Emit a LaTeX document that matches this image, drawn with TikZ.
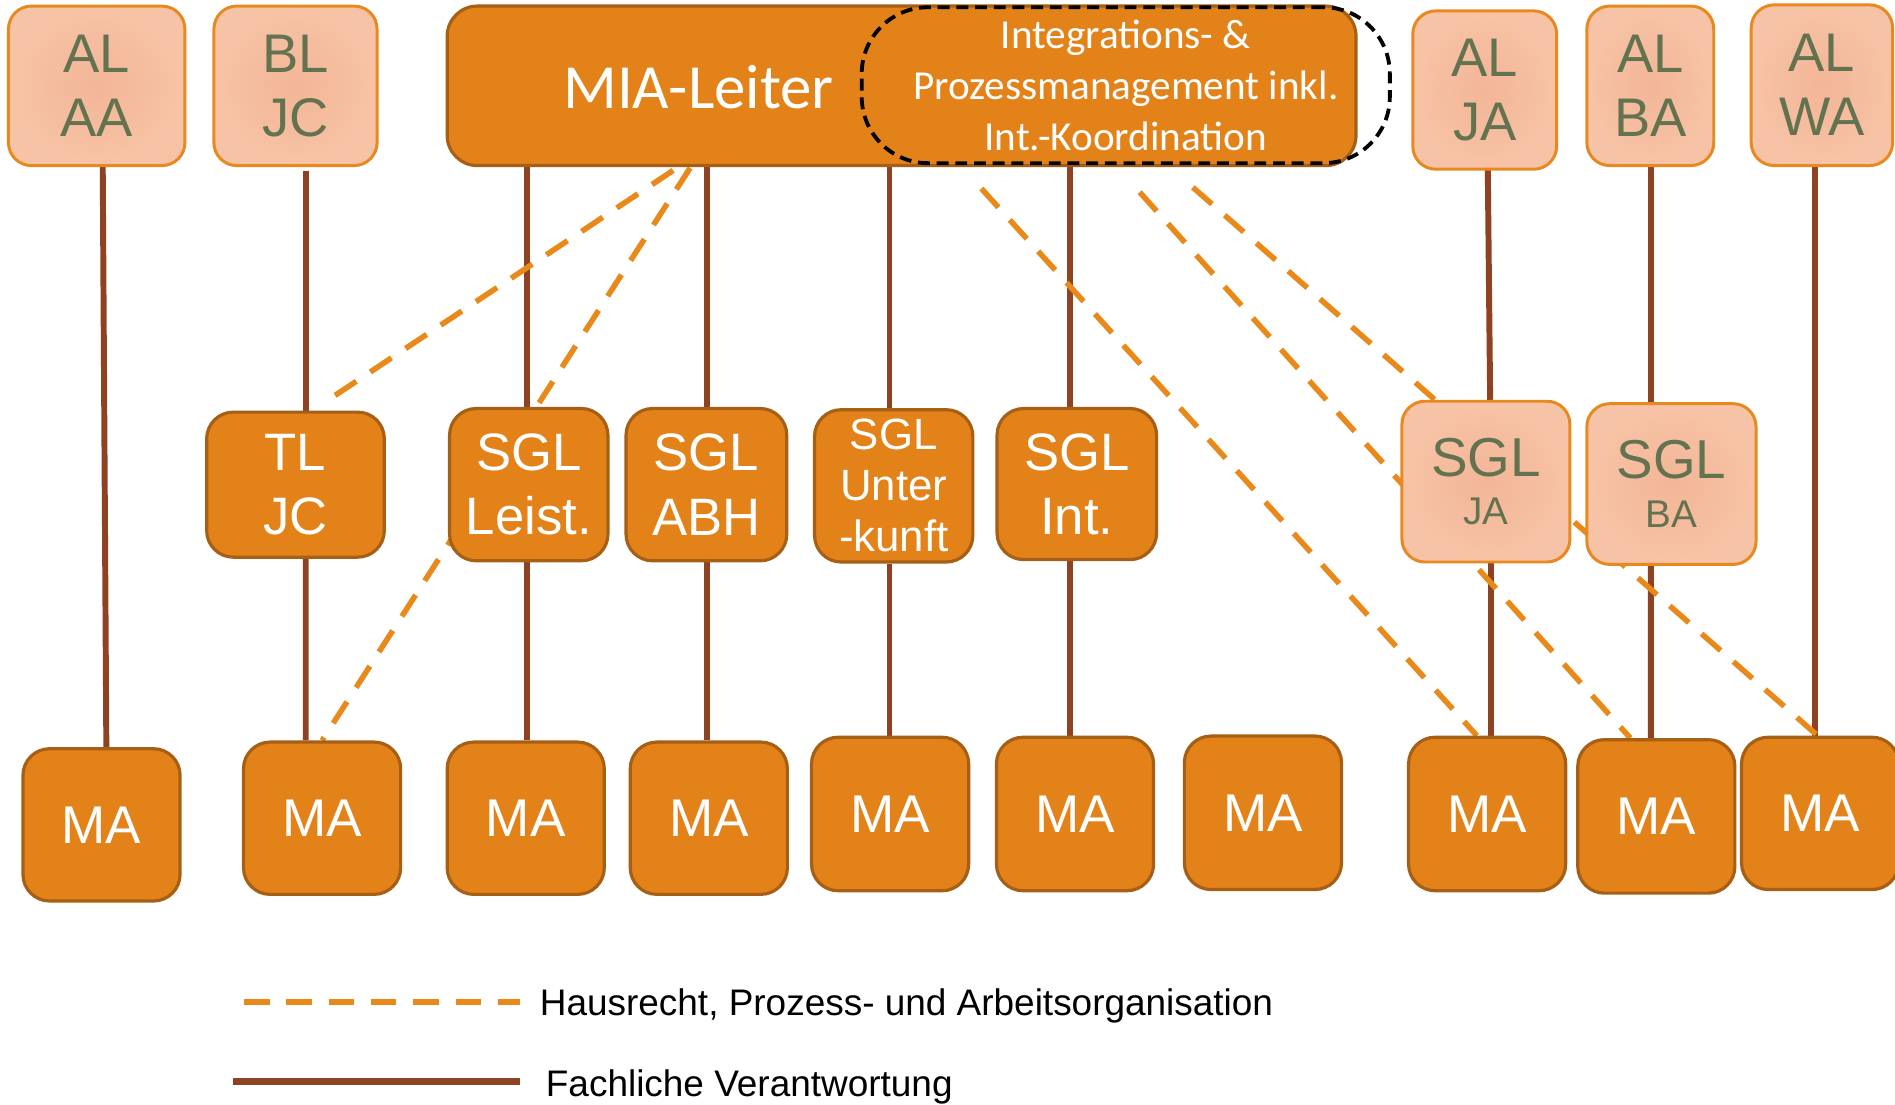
\documentclass[tikz,border=0pt]{standalone}
\usepackage{fontspec}
\setmainfont{Liberation Sans}
\newfontfamily\calibfont{Carlito}
\usetikzlibrary{calc}
\pgfdeclarelayer{background}
\pgfsetlayers{background,main}
\definecolor{orfill}{HTML}{E4821A}
\definecolor{ordraw}{HTML}{A65F14}
\definecolor{ltfill}{HTML}{F7C3A6}
\definecolor{ltcenter}{HTML}{F3B597}
\definecolor{ltdraw}{HTML}{E8891F}
\definecolor{lttext}{HTML}{64734F}
\definecolor{brownln}{HTML}{8E4222}
\definecolor{dashor}{HTML}{E8891A}
\begin{document}
\begin{tikzpicture}[
  obox/.style={draw=ordraw, line width=0.75pt, fill=orfill, rounded corners=0.22cm, text=white, align=center, inner sep=0pt, font=\fontsize{12.4}{15.1}\selectfont},
  mabox/.style={obox, minimum width=1.30cm, minimum height=1.26cm, font=\fontsize{12.5}{15}\selectfont},
  lbox/.style={draw=ltdraw, line width=0.7pt, inner color=ltcenter, outer color=ltfill, rounded corners=0.19cm, text=lttext, align=center, inner sep=0pt, font=\fontsize{12.8}{15.1}\selectfont},
  integbox/.style={draw=black, line width=0.9pt, dash pattern=on 2.8pt off 1.6pt, rounded corners=0.55cm, text=white, align=center, inner sep=0pt, font=\calibfont\fontsize{9.7}{12}\selectfont},
  solidln/.style={draw=brownln, line width=1.4pt},
  dashln/.style={draw=dashor, line width=1.3pt, dash pattern=on 0.21cm off 0.14cm},
  legtext/.style={anchor=base west, inner sep=0pt, font=\fontsize{8.7}{10}\selectfont, text=black}
]
\useasboundingbox (0,0) rectangle (15.68,-9.14);

% top row
\node[lbox, minimum width=1.46cm, minimum height=1.32cm] (alaa) at (0.80,-0.71) {AL\\AA};
\node[lbox, minimum width=1.35cm, minimum height=1.32cm] (bljc) at (2.445,-0.71) {BL\\JC};
\node[obox, rounded corners=0.25cm, minimum width=7.52cm, minimum height=1.32cm] (mia) at (7.46,-0.71) {};
\node[font=\calibfont\fontsize{14.8}{17}\selectfont, text=white, inner sep=0pt] (mialbl) at (5.78,-0.72) {MIA-Leiter};
\node[integbox, minimum width=4.37cm, minimum height=1.29cm] (integ) at (9.315,-0.705) {Integrations- \&\\Prozessmanagement inkl.\\Int.-Koordination};
\node[lbox, minimum width=1.19cm, minimum height=1.31cm] (alja) at (12.285,-0.745) {AL\\JA};
\node[lbox, minimum width=1.05cm, minimum height=1.32cm] (alba) at (13.655,-0.71) {AL\\BA};
\node[lbox, minimum width=1.17cm, minimum height=1.33cm] (alwa) at (15.075,-0.705) {AL\\WA};

% middle row
\node[obox, minimum width=1.47cm, minimum height=1.20cm] (tljc) at (2.445,-4.01) {TL\\JC};
\node[obox, minimum width=1.31cm, minimum height=1.26cm] (sglleist) at (4.375,-4.01) {SGL\\Leist.};
\node[obox, minimum width=1.33cm, minimum height=1.26cm] (sglabh) at (5.845,-4.01) {SGL\\ABH};
\node[obox, minimum width=1.31cm, minimum height=1.26cm, font=\fontsize{10.3}{12}\selectfont] (sglunt) at (7.395,-4.02) {SGL\\Unter\\-kunft};
\node[obox, minimum width=1.32cm, minimum height=1.25cm] (sglint) at (8.91,-4.005) {SGL\\Int.};
\node[lbox, minimum width=1.39cm, minimum height=1.33cm, font=\fontsize{12.9}{11.5}\selectfont] (sglja) at (12.295,-3.985) {SGL\\{\fontsize{9.1}{11.5}\selectfont JA}};
\node[lbox, minimum width=1.40cm, minimum height=1.33cm, font=\fontsize{12.9}{11.5}\selectfont] (sglba) at (13.83,-4.005) {SGL\\{\fontsize{9.1}{11.5}\selectfont BA}};

% bottom row
\node[mabox] (ma1) at (0.84,-6.825) {MA};
\node[mabox] (ma2) at (2.665,-6.77) {MA};
\node[mabox] (ma3) at (4.35,-6.77) {MA};
\node[mabox] (ma4) at (5.865,-6.77) {MA};
\node[mabox, minimum height=1.27cm] (ma5) at (7.365,-6.735) {MA};
\node[mabox, minimum height=1.27cm] (ma6) at (8.895,-6.735) {MA};
\node[mabox, minimum height=1.27cm] (ma7) at (10.45,-6.725) {MA};
\node[mabox, minimum height=1.27cm] (ma8) at (12.305,-6.735) {MA};
\node[mabox, minimum height=1.27cm] (ma9) at (13.705,-6.755) {MA};
\node[mabox, minimum height=1.26cm] (ma10) at (15.06,-6.73) {MA};

% legend
\coordinate (lg1a) at (2.02,-8.29);
\coordinate (lg1b) at (4.30,-8.29);
\coordinate (lg2a) at (1.93,-8.95);
\coordinate (lg2b) at (4.30,-8.95);
\draw[dashln] (lg1a) -- (lg1b);
\draw[solidln, line width=1.5pt] (lg2a) -- (lg2b);
\node[legtext] (leg1) at (4.46,-8.40) {Hausrecht, Prozess- und Arbeitsorganisation};
\node[legtext] (leg2) at (4.51,-9.07) {Fachliche Verantwortung};

% connectors
\coordinate (d1s) at (5.57,-1.41);
\coordinate (d1e) at (2.76,-3.28);
\coordinate (d2s) at (5.71,-1.39);
\coordinate (d3s) at (8.12,-1.56);
\coordinate (d4s) at (9.43,-1.59);
\coordinate (d5s) at (9.87,-1.55);
\begin{pgfonlayer}{background}
\fill[white] (0,0) rectangle (15.68,-9.14);
\draw[solidln] ([xshift=0.05cm]alaa.south) -- ([xshift=0.04cm]ma1.north);
\draw[solidln] ([xshift=0.085cm,yshift=-0.03cm]bljc.south) -- ([xshift=0.085cm]tljc.north);
\draw[solidln] ([xshift=0.085cm]tljc.south) -- ([xshift=-0.135cm]ma2.north);
\draw[solidln] ([xshift=-0.015cm]sglleist.north |- mia.south) -- ([xshift=-0.015cm]sglleist.north);
\draw[solidln] ([xshift=-0.015cm]sglleist.south) -- ([xshift=0.01cm]ma3.north);
\draw[solidln] ([xshift=0.005cm]sglabh.north |- mia.south) -- ([xshift=0.005cm]sglabh.north);
\draw[solidln] ([xshift=0.005cm]sglabh.south) -- ([xshift=-0.015cm]ma4.north);
\draw[solidln] ([xshift=-0.035cm]sglunt.north |- mia.south) -- ([xshift=-0.035cm]sglunt.north);
\draw[solidln] ([xshift=-0.035cm]sglunt.south) -- ([xshift=-0.005cm]ma5.north);
\draw[solidln] ([xshift=-0.06cm]sglint.north |- mia.south) -- ([xshift=-0.06cm]sglint.north);
\draw[solidln] ([xshift=-0.06cm]sglint.south) -- ([xshift=-0.045cm]ma6.north);
\draw[solidln] ([xshift=0.025cm,yshift=0.06cm]alja.south) -- ([xshift=0.035cm]sglja.north);
\draw[solidln] ([xshift=0.045cm]sglja.south) -- ([xshift=0.035cm]ma8.north);
\draw[solidln] ([xshift=0.005cm]alba.south) -- ([xshift=-0.17cm]sglba.north);
\draw[solidln] ([xshift=-0.17cm]sglba.south) -- ([xshift=-0.045cm]ma9.north);
\draw[solidln] ([xshift=-0.055cm]alwa.south) -- ([xshift=-0.04cm]ma10.north);
\draw[dashln] (d1s) -- (d1e);
\draw[dashln] (d2s) -- (ma2.north);
\draw[dashln] (d3s) -- ([xshift=-0.085cm]ma8.north);
\draw[dashln] (d4s) -- ([xshift=-0.215cm]ma9.north);
\draw[dashln] (d5s) -- ([xshift=-0.02cm]ma10.north);
\end{pgfonlayer}
\end{tikzpicture}
\end{document}
